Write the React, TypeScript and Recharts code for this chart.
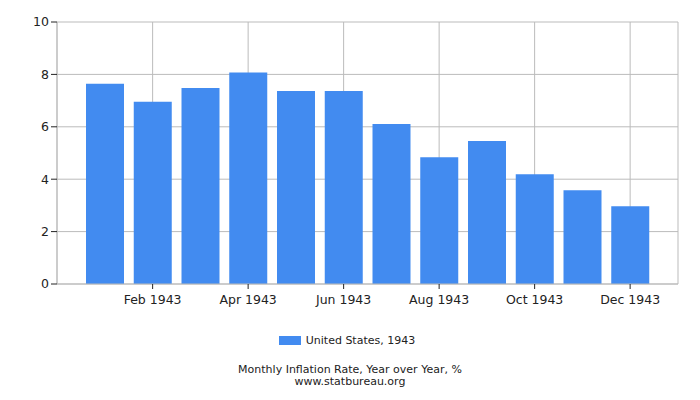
import React from "react";
import {
  BarChart,
  Bar,
  XAxis,
  YAxis,
  CartesianGrid,
} from "recharts";

const months = [
  "Jan 1943",
  "Feb 1943",
  "Mar 1943",
  "Apr 1943",
  "May 1943",
  "Jun 1943",
  "Jul 1943",
  "Aug 1943",
  "Sep 1943",
  "Oct 1943",
  "Nov 1943",
  "Dec 1943",
];
const rates = [7.64, 6.96, 7.48, 8.07, 7.37, 7.37, 6.11, 4.84, 5.46, 4.19, 3.58, 2.97];
const xTicks = ["Feb 1943", "Apr 1943", "Jun 1943", "Aug 1943", "Oct 1943", "Dec 1943"];
const yTicks = [0, 2, 4, 6, 8, 10];

const data = months.map((month, i) => ({ month, rate: rates[i] }));

const font = "'DejaVu Sans', sans-serif";
const grid = "#bbbbbb";
const text = "#222222";

export default function App() {
  return (
    <div
      style={{
        position: "absolute",
        left: 0,
        top: 0,
        width: 700,
        height: 400,
        background: "#fff",
        fontFamily: font,
      }}
    >
      <BarChart
        width={700}
        height={400}
        data={data}
        margin={{ top: 22, right: 22, left: 0, bottom: 86 }}
        barSize={38}
      >
        <CartesianGrid stroke={grid} />
        <XAxis
          dataKey="month"
          ticks={xTicks}
          interval={0}
          height={30}
          padding={{ left: 24, right: 24 }}
          axisLine={{ stroke: grid }}
          tickLine={{ stroke: "#222" }}
          tickSize={5}
          tickMargin={6}
          tick={{ fill: text, fontSize: 12.5, fontFamily: font }}
        />
        <YAxis
          domain={[0, 10]}
          ticks={yTicks}
          width={57}
          axisLine={{ stroke: grid }}
          tickLine={{ stroke: "#222" }}
          tickSize={6}
          tickMargin={2}
          tick={{ fill: text, fontSize: 12.5, fontFamily: font }}
        />
        <YAxis
          yAxisId="right"
          orientation="right"
          domain={[0, 10]}
          width={0}
          tick={false}
          tickLine={false}
          axisLine={{ stroke: grid }}
        />
        <Bar dataKey="rate" fill="#428bf0" isAnimationActive={false} />
      </BarChart>
      <div
        style={{
          position: "absolute",
          top: 334,
          left: 0,
          width: 694,
          display: "flex",
          justifyContent: "center",
          alignItems: "center",
          fontSize: 11,
          color: text,
        }}
      >
        <span
          style={{
            display: "inline-block",
            width: 22,
            height: 9,
            background: "#428bf0",
            marginRight: 5,
          }}
        />
        <span>United States, 1943</span>
      </div>
      <div
        style={{
          position: "absolute",
          top: 364,
          left: 0,
          width: 700,
          textAlign: "center",
          fontSize: 11,
          lineHeight: "12px",
          color: text,
        }}
      >
        <div>Monthly Inflation Rate, Year over Year, %</div>
        <div>www.statbureau.org</div>
      </div>
    </div>
  );
}
